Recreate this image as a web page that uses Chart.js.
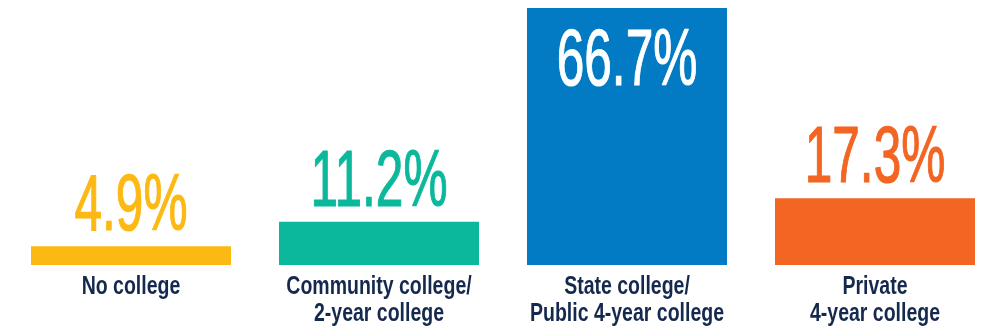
<!DOCTYPE html>
<html>
<head>
<meta charset="utf-8">
<script src="https://cdn.jsdelivr.net/npm/chart.js@4/dist/chart.umd.min.js"></script>
<style>
    html, body { margin: 0; padding: 0; background: #fff; overflow: hidden; }
    .chart-wrap { position: absolute; left: 7px; top: 0; width: 992px; height: 329px; }
</style>
</head>
<body>
<div class="chart-wrap"><canvas id="collegeChart"></canvas></div>
<script>
// categories and shares (%)
const categories = [
    ['No college'],
    ['Community college/', '2-year college'],
    ['State college/', 'Public 4-year college'],
    ['Private', '4-year college']
];
const shares = [4.9, 11.2, 66.7, 17.3];

const barColors = ['#FDB913', '#0BB89B', '#027BC4', '#F26522'];
const labelColor = '#14294D';
const fontFamily = '"Liberation Sans", Arial, sans-serif';

// condensed text: squeeze horizontally around the anchor point
function drawNarrow(ctx, text, x, y, squeeze, weight) {
    ctx.save();
    ctx.translate(x, y);
    ctx.scale(squeeze, 1);
    if (weight) {
        ctx.lineWidth = weight;
        ctx.lineJoin = 'round';
        ctx.strokeStyle = ctx.fillStyle;
        ctx.strokeText(text, 0, 0);
    }
    ctx.fillText(text, 0, 0);
    ctx.restore();
}

// value labels above the bars (inside the bar when there is no room), category names below
const barLabels = {
    id: 'barLabels',
    afterDatasetsDraw(chart) {
        const ctx = chart.ctx;
        const meta = chart.getDatasetMeta(0);
        const xScale = chart.scales.x;
        const base = chart.chartArea.bottom;
        const valueSize = 80;
        const textHeight = valueSize * 0.716;

        ctx.save();
        ctx.textAlign = 'center';
        ctx.textBaseline = 'alphabetic';
        meta.data.forEach((bar, i) => {
            let y = bar.y - 16;
            let color = barColors[i];
            if (y - textHeight < 0) {
                y = bar.y + 20 + textHeight;
                color = '#fff';
            }
            ctx.font = valueSize + 'px ' + fontFamily;
            ctx.fillStyle = color;
            drawNarrow(ctx, shares[i].toFixed(1) + '%', bar.x, y, 0.62, 1.2);

            // category name
            const cx = xScale.getPixelForValue(i);
            ctx.font = 'bold 25px ' + fontFamily;
            ctx.fillStyle = labelColor;
            categories[i].forEach((line, k) => {
                drawNarrow(ctx, line, cx, base + 29 + k * 27, 0.78);
            });
        });
        ctx.restore();
    }
};

new Chart(document.getElementById('collegeChart'), {
    type: 'bar',
    data: {
        labels: categories,
        datasets: [{
            data: shares,
            backgroundColor: barColors,
            borderWidth: 0,
            barPercentage: 1,
            categoryPercentage: 200 / 248
        }]
    },
    options: {
        responsive: true,
        maintainAspectRatio: false,
        animation: false,
        layout: { padding: { top: 0, bottom: 64, left: 0, right: 0 } },
        plugins: {
            legend: { display: false },
            tooltip: { enabled: false }
        },
        scales: {
            x: { display: false },
            y: { display: false, min: 0, max: 68.8 }
        }
    },
    plugins: [barLabels]
});
</script>
</body>
</html>
